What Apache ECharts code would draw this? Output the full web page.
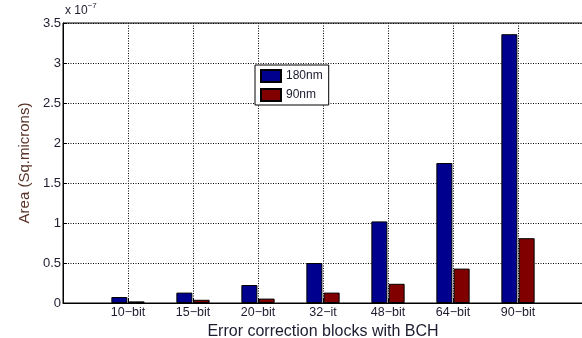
<!DOCTYPE html>
<html>
<head>
  <meta charset="utf-8">
  <style>
    body { margin: 0; background: #fff; }
    #container { width: 582px; height: 338px; }
  </style>
</head>
<body>
  <div id="container"></div>
  <script src="https://cdn.jsdelivr.net/npm/echarts@6/dist/echarts.min.js"></script>
  <script>
    // tick labels (empty slots at both ends, like the original plot's 0..8 range)
    var categories = ['', '10\u2212bit', '15\u2212bit', '20\u2212bit', '32\u2212it', '48\u2212bit', '64\u2212bit', '90\u2212bit', '']
    // area in units of 1e-7 sq. microns
    var area180 = [0.075, 0.13, 0.225, 0.50, 1.02, 1.75, 3.36]
    var area90 = [0.02, 0.04, 0.055, 0.13, 0.24, 0.43, 0.81]

    function pad(arr) {
      return [null].concat(arr).concat([null])
    }

    var dom = document.getElementById('container')
    var myChart = echarts.init(dom, null, { renderer: 'canvas' })

    var gridLine = { color: '#000', width: 1, type: [1, 1.5] }
    var textColor = '#1c1c30'

    var option = {
      animation: false,
      backgroundColor: '#fff',
      textStyle: { fontFamily: 'Liberation Sans, Arial, sans-serif' },
      grid: {
        left: 63, width: 520, top: 23, bottom: 35,
        outerBoundsMode: 'none',
        show: true, borderColor: '#000', borderWidth: 1
      },
      legend: {
        orient: 'vertical',
        left: 255, top: 65,
        icon: 'rect',
        itemWidth: 20, itemHeight: 12, itemGap: 5,
        padding: [4, 6, 3, 5],
        borderColor: '#000', borderWidth: 1,
        backgroundColor: '#fff',
        textStyle: { fontSize: 12, color: textColor },
        data: ['180nm', '90nm']
      },
      xAxis: {
        type: 'category',
        data: categories,
        boundaryGap: false,
        name: 'Error correction blocks with BCH',
        nameLocation: 'middle',
        nameGap: 17,
        nameTextStyle: { fontSize: 16, color: textColor },
        axisLine: { lineStyle: { color: '#000' } },
        axisTick: { show: true, inside: true, length: 4, lineStyle: { color: '#000' } },
        axisLabel: { fontSize: 12.5, color: textColor, margin: 3, interval: 0 },
        splitLine: { show: true, lineStyle: gridLine }
      },
      yAxis: {
        type: 'value',
        min: 0, max: 3.5, interval: 0.5,
        name: 'Area (Sq.microns)',
        nameLocation: 'middle',
        nameGap: 28,
        nameTextStyle: { fontSize: 15, color: '#5a3328' },
        axisLine: { show: true, lineStyle: { color: '#000' } },
        axisTick: { show: true, inside: true, length: 4, lineStyle: { color: '#000' } },
        axisLabel: { fontSize: 13, color: textColor, margin: 2 },
        splitLine: { show: true, lineStyle: gridLine }
      },
      graphic: [{
        type: 'text',
        left: 65, top: 2,
        style: {
          text: '{a|x 10}{s|\u22127}',
          rich: {
            a: { fontSize: 12, fill: textColor, fontFamily: 'Liberation Sans', padding: [6, 0, 0, 0] },
            s: { fontSize: 8, fill: textColor, fontFamily: 'Liberation Sans', padding: [0, 0, 4, 0] }
          }
        }
      }],
      series: [
        {
          name: '180nm',
          type: 'bar',
          data: pad(area180),
          barWidth: 16,
          barGap: '8%',
          itemStyle: { color: '#00008f', borderColor: '#000', borderWidth: 1 }
        },
        {
          name: '90nm',
          type: 'bar',
          data: pad(area90),
          barWidth: 16,
          itemStyle: { color: '#800000', borderColor: '#000', borderWidth: 1 }
        }
      ]
    }

    myChart.setOption(option)
    window.addEventListener('resize', myChart.resize)
  </script>
</body>
</html>
